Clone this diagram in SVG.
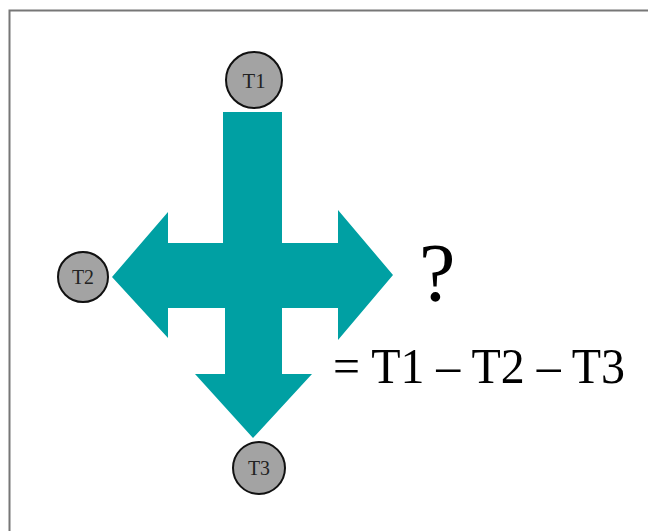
<svg xmlns="http://www.w3.org/2000/svg" width="648" height="531" viewBox="0 0 648 531">
<style>
.node circle{fill:#a3a3a3;stroke:#111;stroke-width:2}
.lbl{font-family:"Liberation Serif","Times New Roman",serif;fill:#222;text-anchor:middle}
.big{font-family:"Liberation Serif","Times New Roman",serif;fill:#000}
.arrow{fill:#00a0a3}
</style>
<rect x="0" y="0" width="648" height="531" fill="#fff"/>
<path d="M9.5 531 V10.5 H648" fill="none" stroke="#777" stroke-width="2"/>
<g id="connectors">
<polygon class="arrow" points="223,112 282,112 282,243 338,243 338,210 393,275 338,340 338,308 282,308 282,374 312,374 253,438 195,374 225,374 225,308 168,308 168,338 112,277 168,212 168,243 223,243"/>
</g>
<g id="T1" class="node"><circle cx="254" cy="80" r="28"/><text class="lbl" x="254" y="88" font-size="22" textLength="23" lengthAdjust="spacingAndGlyphs">T1</text></g>
<g id="T2" class="node"><circle cx="83" cy="277" r="25"/><text class="lbl" x="83" y="284" font-size="20" textLength="22" lengthAdjust="spacingAndGlyphs">T2</text></g>
<g id="T3" class="node"><circle cx="259" cy="468" r="26"/><text class="lbl" x="259" y="475" font-size="20" textLength="22" lengthAdjust="spacingAndGlyphs">T3</text></g>
<text class="big" x="419" y="300" font-size="82">?</text>
<text class="big" x="333" y="383" font-size="51" textLength="292" lengthAdjust="spacingAndGlyphs">= T1 – T2 – T3</text>
</svg>
